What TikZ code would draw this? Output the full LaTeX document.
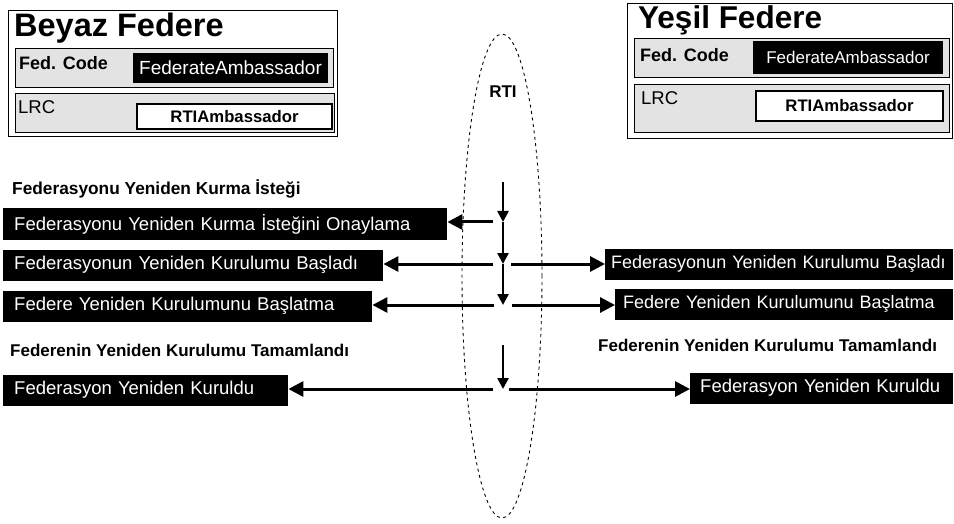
\documentclass[tikz,border=0pt]{standalone}
\usepackage{fontspec}
\setmainfont{Liberation Sans}
\usetikzlibrary{arrows.meta,shapes.geometric}

\newcommand{\fs}[1]{\fontsize{#1}{#1}\selectfont}

\tikzset{
  frame/.style={draw=black, line width=1.4pt, fill=white, anchor=north west, inner sep=0pt},
  rowbox/.style={draw=black, line width=1.2pt, fill=gray!22, anchor=north west, inner sep=0pt},
  title/.style={anchor=base west, inner sep=0pt, font=\bfseries\fs{32.5}},
  rowlabel/.style={anchor=base west, inner sep=0pt, font=\fs{18.5}},
  ambblack/.style={fill=black, text=white, inner sep=0pt, font=\fs{#1}},
  ambwhite/.style={draw=black, line width=1.2pt, fill=white, inner sep=0pt, font=\bfseries\fs{16.7}},
  msg/.style={fill=black, text=white, anchor=west, inner xsep=11pt, inner ysep=0pt,
              minimum height=31pt, align=left, font=\fs{18.5}},
  steplabel/.style={anchor=base west, inner sep=0pt, font=\bfseries\fs{17}},
  harrow/.style={line width=3pt, -{Triangle[length=15pt,width=15pt]}},
  varrow/.style={line width=2.5pt, -{Triangle[length=11pt,width=11pt]}},
  rtiring/.style={draw=black, line width=0.9pt, dash pattern=on 3pt off 3.5pt, ellipse,
                  inner sep=0pt},
}

\begin{document}
\begin{tikzpicture}[x=1pt, y=-1pt]
\useasboundingbox (0,0) rectangle (954,524);

% ---------- white federate ----------
\node[frame, minimum width=329pt, minimum height=126pt] (wfed) at (8,10) {};
\node[title] (wtitle) at (14,37) {Beyaz Federe};
\node[rowbox, minimum width=318pt, minimum height=39pt] (wcode) at (15,48) {};
\node[rowlabel, font=\bfseries\fs{18}] (wcodelbl) at (19,70) {Fed. Code};
\node[ambblack=19, minimum width=195pt, minimum height=30pt] (wfa) at (230.5,68) {FederateAmbassador};
\node[rowbox, minimum width=319pt, minimum height=39pt] (wlrc) at (15,93) {};
\node[rowlabel] (wlrclbl) at (18,114) {LRC};
\node[ambwhite, minimum width=195pt, minimum height=25pt] (wrti) at (234.5,116.5) {RTIAmbassador};

% ---------- green federate ----------
\node[frame, minimum width=325pt, minimum height=135pt] (gfed) at (627,3) {};
\node[title, font=\bfseries\fs{31.5}] (gtitle) at (638,29) {Yeşil Federe};
\node[rowbox, minimum width=315pt, minimum height=39pt] (gcode) at (634,38) {};
\node[rowlabel, font=\bfseries\fs{18}] (gcodelbl) at (640,62) {Fed. Code};
\node[ambblack=17, minimum width=190pt, minimum height=33pt] (gfa) at (848,57.5) {FederateAmbassador};
\node[rowbox, minimum width=315pt, minimum height=48pt] (glrc) at (634,84) {};
\node[rowlabel] (glrclbl) at (641,105) {LRC};
\node[ambwhite, minimum width=187pt, minimum height=30pt] (grti) at (849.5,106) {RTIAmbassador};

% ---------- RTI ----------
\node[rtiring, minimum width=80pt, minimum height=484pt] (rti) at (502,276) {};
\node[inner sep=0pt, font=\bfseries\fs{17}] (rtilbl) at (503,92) {RTI};

% ---------- step labels ----------
\node[steplabel, font=\bfseries\fs{17.3}] (req) at (12,195) {Federasyonu Yeniden Kurma İsteği};
\node[steplabel] (doneL) at (10,356) {Federenin Yeniden Kurulumu Tamamlandı};
\node[steplabel] (doneR) at (598,351) {Federenin Yeniden Kurulumu Tamamlandı};

% ---------- callbacks ----------
\node[msg, text width=422pt] (m1L) at (3,224) {\mbox{Federasyonu Yeniden Kurma İsteğini Onaylama}};
\node[msg, text width=358pt] (m2L) at (3,265) {\mbox{Federasyonun Yeniden Kurulumu Başladı}};
\node[msg, text width=347pt] (m3L) at (3,306) {\mbox{Federe Yeniden Kurulumunu Başlatma}};
\node[msg, text width=263pt] (m4L) at (3,390) {\mbox{Federasyon Yeniden Kuruldu}};
\node[msg, inner xsep=6pt, text width=336pt, font=\fs{18}] (m2R) at (605,264) {\mbox{Federasyonun Yeniden Kurulumu Başladı}};
\node[msg, inner xsep=8pt, text width=322pt, font=\fs{18}] (m3R) at (615,304) {\mbox{Federe Yeniden Kurulumunu Başlatma}};
\node[msg, inner xsep=10pt, text width=243pt] (m4R) at (690,388) {\mbox{Federasyon Yeniden Kuruldu}};

% ---------- time line through the RTI ----------
\coordinate (t1) at (503,182);
\coordinate (v1) at (503,222);
\coordinate (v2) at (503,264);
\coordinate (v3) at (503,305);
\coordinate (t2) at (503,345);
\coordinate (v4) at (503,389);

\draw[varrow] (t1) -- (v1);
\draw[varrow] (v1) -- (v2);
\draw[varrow] (v2) -- (v3);
\draw[varrow] (t2) -- (v4);

% ---------- messages to the federates ----------
\coordinate (s1L) at (493,222);
\coordinate (s2L) at (493,264);
\coordinate (s2R) at (511,264);
\coordinate (s3L) at (494,305);
\coordinate (s3R) at (512,305);
\coordinate (s4L) at (493,389);
\coordinate (s4R) at (509,389);

\draw[harrow] (s1L) -- (m1L.east |- s1L);
\draw[harrow] (s2L) -- (m2L.east |- s2L);
\draw[harrow] (s2R) -- (m2R.west |- s2R);
\draw[harrow] (s3L) -- (m3L.east |- s3L);
\draw[harrow] (s3R) -- (m3R.west |- s3R);
\draw[harrow] (s4L) -- (m4L.east |- s4L);
\draw[harrow] (s4R) -- (m4R.west |- s4R);
\end{tikzpicture}
\end{document}
